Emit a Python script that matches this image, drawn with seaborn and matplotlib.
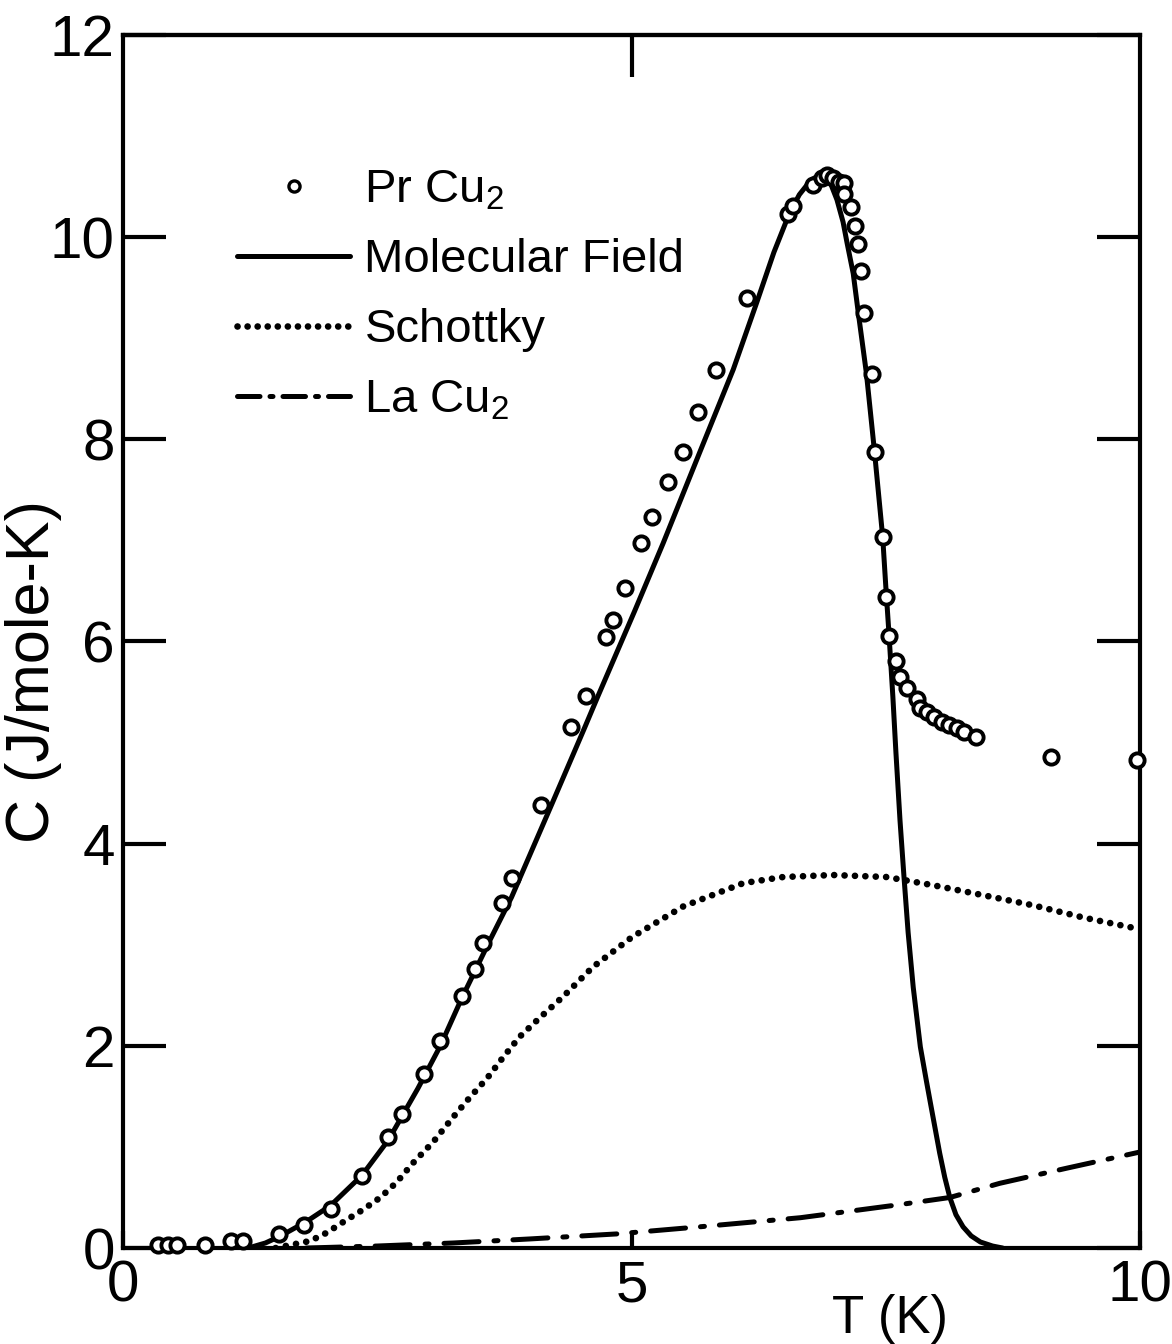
import pandas as pd
import seaborn as sns
import matplotlib
matplotlib.use("Agg")
import matplotlib.pyplot as plt
from matplotlib.lines import Line2D

# PrCu2 measured specific heat (open circles)
pr_T = [0.34, 0.44, 0.53, 0.81, 1.06, 1.18, 1.53, 1.78, 2.04, 2.35, 2.61, 2.74,
        2.96, 3.12, 3.33, 3.46, 3.54, 3.73, 3.82, 4.11, 4.40, 4.55, 4.75, 4.82,
        4.94, 5.09, 5.20, 5.36, 5.51, 5.65, 5.83, 6.14, 6.54, 6.59, 6.78, 6.87,
        6.92, 6.98, 7.04, 7.09, 7.09, 7.16, 7.20, 7.23, 7.26, 7.29, 7.36, 7.39,
        7.47, 7.50, 7.53, 7.60, 7.64, 7.71, 7.81, 7.84, 7.91, 7.97, 8.05, 8.12,
        8.20, 8.27, 8.39, 9.12, 9.97]
pr_C = [0.03, 0.03, 0.03, 0.03, 0.07, 0.07, 0.14, 0.23, 0.39, 0.71, 1.10, 1.33,
        1.72, 2.05, 2.49, 2.76, 3.02, 3.41, 3.66, 4.38, 5.15, 5.46, 6.04, 6.21,
        6.53, 6.97, 7.23, 7.58, 7.87, 8.27, 8.69, 9.40, 10.23, 10.31, 10.52, 10.58,
        10.61, 10.58, 10.55, 10.54, 10.43, 10.30, 10.11, 9.93, 9.66, 9.25, 8.65, 7.87,
        7.03, 6.44, 6.05, 5.81, 5.65, 5.54, 5.43, 5.34, 5.30, 5.25, 5.20, 5.17,
        5.14, 5.10, 5.06, 4.86, 4.83]

# molecular field calculation (solid)
mf_T = [1.23, 1.40, 1.55, 1.80, 2.04, 2.35, 2.61, 2.90, 3.12, 3.33, 3.61, 3.82,
        4.22, 4.54, 4.67, 5.03, 5.31, 5.67, 6.00, 6.23, 6.40, 6.55, 6.65, 6.76,
        6.87, 6.95, 7.02, 7.08, 7.12, 7.18, 7.23, 7.31, 7.39, 7.47, 7.50, 7.53,
        7.57, 7.60, 7.64, 7.68, 7.72, 7.77, 7.84, 7.90, 7.94, 8.03, 8.08, 8.13,
        8.19, 8.26, 8.34, 8.43, 8.55, 8.65]
mf_C = [0.00, 0.05, 0.12, 0.26, 0.42, 0.72, 1.07, 1.58, 2.00, 2.47, 3.05, 3.47,
        4.40, 5.15, 5.46, 6.30, 6.97, 7.87, 8.69, 9.35, 9.85, 10.23, 10.42, 10.56,
        10.63, 10.55, 10.37, 10.15, 9.94, 9.64, 9.25, 8.65, 7.87, 7.03, 6.55, 6.10,
        5.45, 4.90, 4.23, 3.66, 3.12, 2.58, 1.99, 1.65, 1.43, 0.94, 0.70, 0.50,
        0.33, 0.21, 0.12, 0.06, 0.02, 0.00]

# Schottky contribution (dotted)
sch_T = [1.50, 1.84, 2.00, 2.20, 2.36, 2.53, 2.69, 2.85, 3.05, 3.25, 3.41, 3.58,
         3.74, 3.90, 4.10, 4.33, 4.62, 5.01, 5.51, 6.10, 6.49, 6.98, 7.51, 7.96,
         8.46, 8.95, 9.44, 9.97]
sch_C = [0.00, 0.07, 0.15, 0.28, 0.38, 0.50, 0.65, 0.84, 1.05, 1.30, 1.49, 1.68,
         1.89, 2.09, 2.28, 2.49, 2.78, 3.08, 3.38, 3.61, 3.67, 3.69, 3.67, 3.59,
         3.49, 3.39, 3.27, 3.16]

# LaCu2 (dash-dot)
la_T = [1.8, 2.5, 3.25, 4.0, 4.86, 5.67, 6.66, 7.64, 8.13, 8.62, 9.28, 10.0]
la_C = [0.0, 0.02, 0.05, 0.09, 0.14, 0.21, 0.30, 0.43, 0.50, 0.64, 0.79, 0.95]

pr = pd.DataFrame({"T": pr_T, "C": pr_C})
mf = pd.DataFrame({"T": mf_T, "C": mf_C})
sch = pd.DataFrame({"T": sch_T, "C": sch_C})
la = pd.DataFrame({"T": la_T, "C": la_C})

sns.set_style("ticks")
plt.rcParams["font.family"] = ["Liberation Sans", "DejaVu Sans"]
plt.rcParams["axes.linewidth"] = 3
for k in ["text.color", "axes.labelcolor", "axes.edgecolor",
          "xtick.color", "ytick.color"]:
    plt.rcParams[k] = "black"

fig = plt.figure(figsize=(11.72, 13.44), dpi=100)
ax = fig.add_axes([0.105, 0.0714, 0.8677, 0.9026])

sns.lineplot(data=mf, x="T", y="C", ax=ax, color="black", lw=3.6,
             estimator=None, sort=False)
sns.lineplot(data=sch, x="T", y="C", ax=ax, color="black", lw=4.8,
             estimator=None, sort=False, linestyle=(0, (0.01, 1.55)),
             dash_capstyle="round")
sns.lineplot(data=la, x="T", y="C", ax=ax, color="black", lw=3.6,
             estimator=None, sort=False, linestyle=(0, (7, 3, 0.8, 3)),
             dash_capstyle="round")
sns.scatterplot(data=pr, x="T", y="C", ax=ax, marker="o", s=105,
                facecolor="white", edgecolor="black", linewidth=2.8, zorder=5,
                clip_on=False)

ax.set_xlim(0, 10)
ax.set_ylim(0, 12)
ax.set_xticks([0, 5, 10])
ax.set_xticklabels(["0", "5", "10"])
ax.set_yticks([0, 2, 4, 6, 8, 10, 12])
ax.tick_params(axis="y", left=True, right=True, direction="in", length=31,
               width=3, labelsize=42, pad=6)
ax.tick_params(axis="x", bottom=True, direction="in", length=12, width=3,
               labelsize=42, pad=8)
top = ax.secondary_xaxis("top")
top.set_xticks([5])
top.tick_params(direction="in", length=30, width=3, labeltop=False)

ax.set_xlabel("T (K)", fontsize=38)
ax.xaxis.set_label_coords(0.754, -0.038)
ax.set_ylabel("C (J/mole-K)", fontsize=44)
ax.yaxis.set_label_coords(-0.06, 0.475)

handles = [
    Line2D([], [], marker="o", ls="none", ms=8, mfc="white", mec="black", mew=2.4),
    Line2D([], [], color="black", lw=3.6),
    Line2D([], [], color="black", lw=4.8, ls=(0, (0.01, 1.5)), dash_capstyle="round"),
    Line2D([], [], color="black", lw=3.6, ls=(0, (4.5, 2, 0.6, 2)), dash_capstyle="round"),
]
labels = [r"Pr Cu$_\mathregular{2}$", "Molecular Field", "Schottky",
          r"La Cu$_\mathregular{2}$"]
ax.legend(handles, labels, loc="upper left", bbox_to_anchor=(0.112, 0.89),
          frameon=False, fontsize=34, handlelength=2.4, handletextpad=0.3,
          labelspacing=0.55, borderpad=0, borderaxespad=0)

fig.savefig("out.png", dpi=100)
